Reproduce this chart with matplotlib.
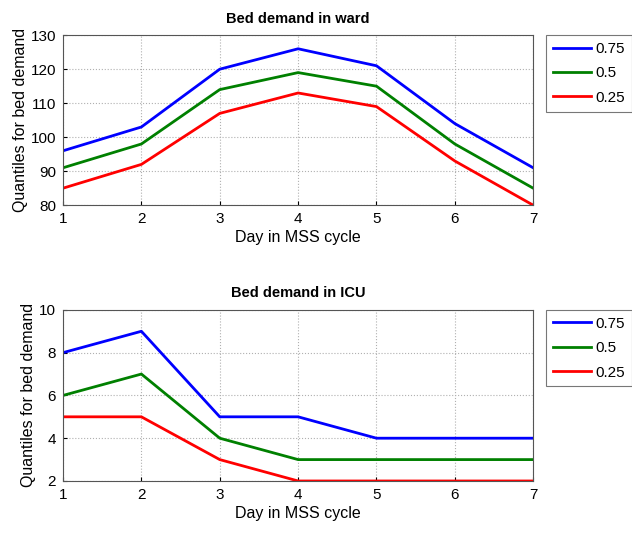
import matplotlib
matplotlib.use("Agg")
import matplotlib.pyplot as plt

plt.rcParams["font.family"] = ["Liberation Sans", "DejaVu Sans"]
plt.rcParams["font.size"] = 9

days = [1, 2, 3, 4, 5, 6, 7]
quantiles = ["0.75", "0.5", "0.25"]
colors = ["#0000ff", "#008000", "#ff0000"]

ward_75 = [96, 103, 120, 126, 121, 104, 91]
ward_50 = [91, 98, 114, 119, 115, 98, 85]
ward_25 = [85, 92, 107, 113, 109, 93, 80]

icu_75 = [8, 9, 5, 5, 4, 4, 4]
icu_50 = [6, 7, 4, 3, 3, 3, 3]
icu_25 = [5, 5, 3, 2, 2, 2, 2]

fig = plt.figure(figsize=(6.32, 5.33), dpi=100)
ax1 = fig.add_axes([0.0997, 0.615, 0.744, 0.319])
ax2 = fig.add_axes([0.0997, 0.0976, 0.744, 0.321])


def draw(ax, series, title, ylim, yticks):
    for vals, c, q in zip(series, colors, quantiles):
        ax.plot(days, vals, color=c, lw=2, label=q)
    ax.set_xlim(1, 7)
    ax.set_ylim(*ylim)
    ax.set_xticks(days)
    ax.set_yticks(yticks)
    ax.grid(True, linestyle=":", color="#b0b0b0", lw=0.8)
    ax.set_title(title, fontsize=10.5, fontweight="bold", pad=9)
    ax.set_xlabel("Day in MSS cycle", fontsize=11.5, labelpad=3)
    ax.set_ylabel("Quantiles for bed demand", fontsize=11.5, labelpad=2)
    ax.tick_params(labelsize=11, direction="in", length=3, pad=5)
    for s in ax.spines.values():
        s.set_color("#555555")
        s.set_linewidth(0.8)
    leg = ax.legend(loc="upper left", bbox_to_anchor=(1.028, 1.0), fontsize=11,
                    frameon=True, fancybox=False, edgecolor="#555555",
                    handlelength=2.5, handletextpad=0.25, borderpad=0.45,
                    labelspacing=0.68, borderaxespad=0)
    leg.get_frame().set_linewidth(0.8)


draw(ax1, [ward_75, ward_50, ward_25], "Bed demand in ward", (80, 130),
     range(80, 131, 10))
draw(ax2, [icu_75, icu_50, icu_25], "Bed demand in ICU", (2, 10),
     range(2, 11, 2))

fig.savefig("out.png", dpi=100)
